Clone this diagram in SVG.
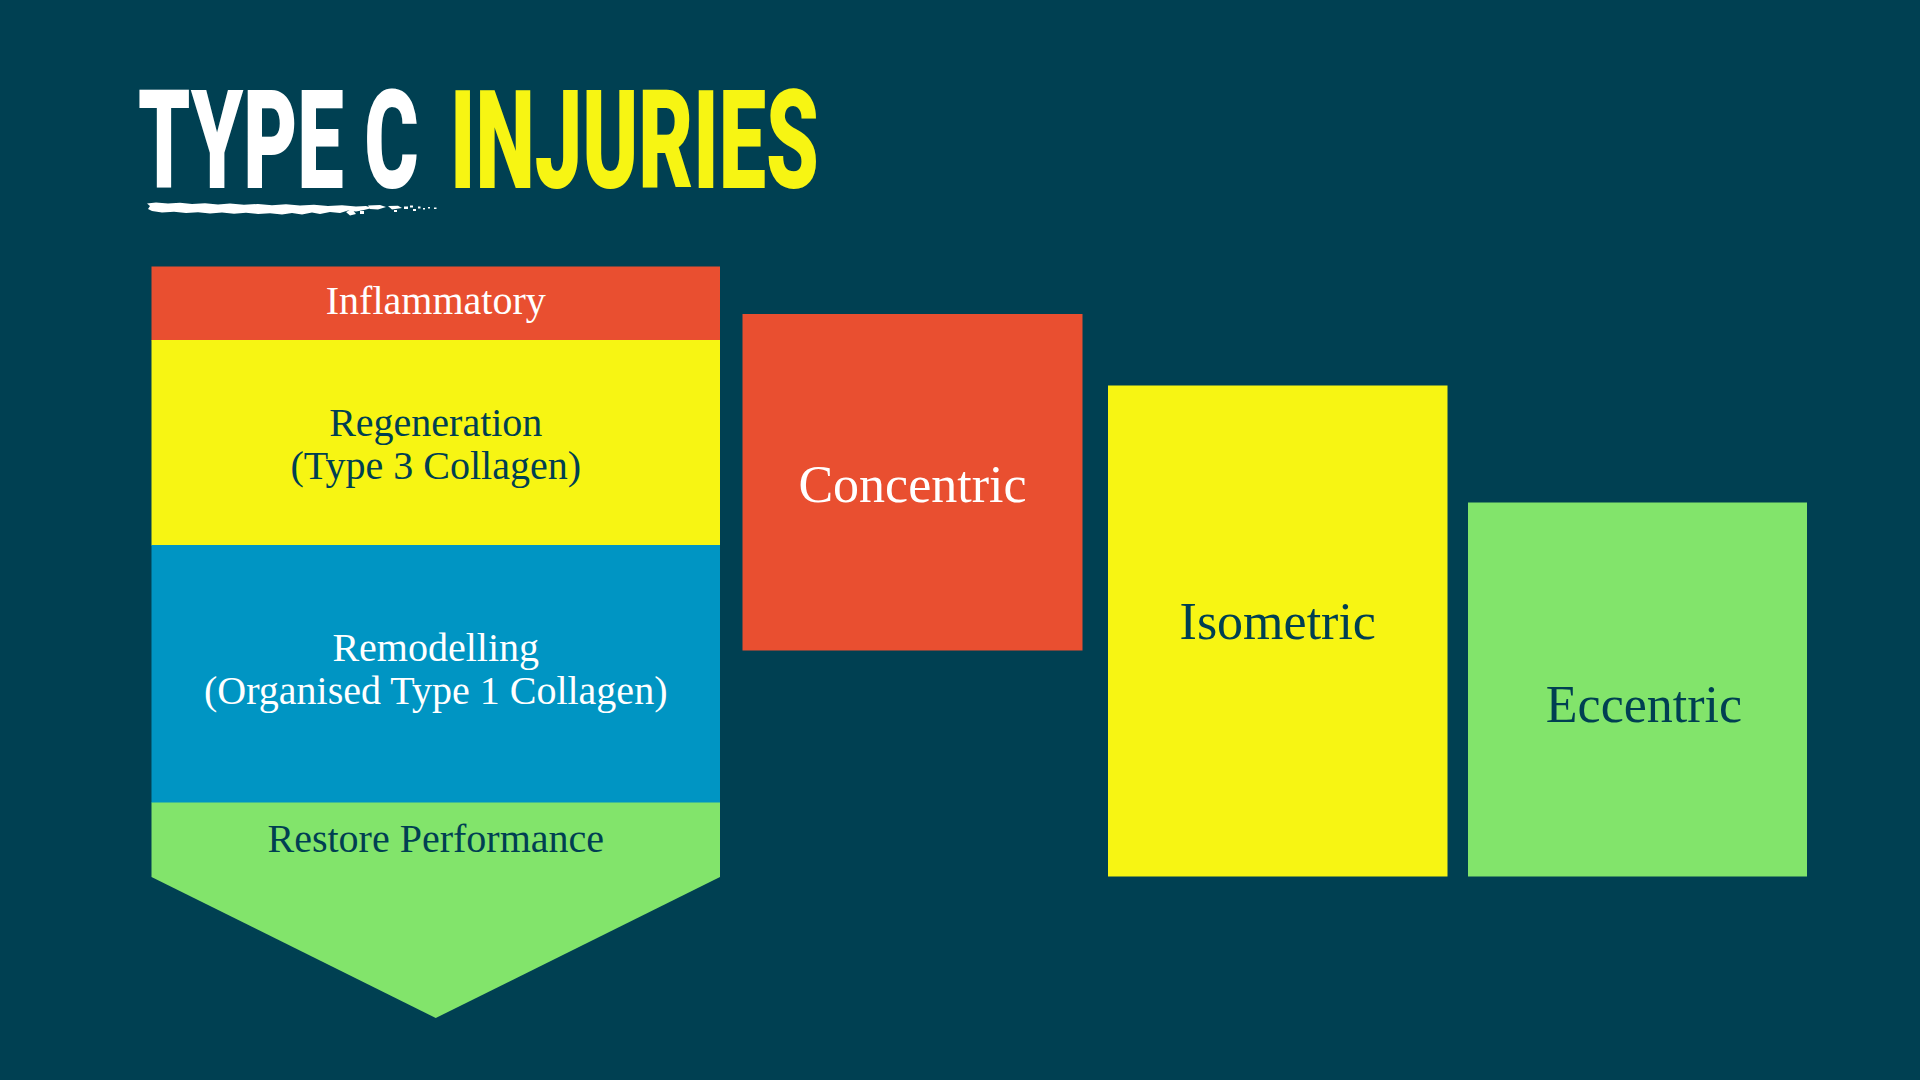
<svg xmlns="http://www.w3.org/2000/svg" width="1920" height="1080" viewBox="0 0 1920 1080">
  <style>
    .title { font-family: Roboto, "DejaVu Sans", sans-serif; font-weight: 900; font-size: 138px; }
    .lbl { font-family: "Liberation Serif", "Times New Roman", serif; font-size: 40px; text-anchor: middle; }
    .big { font-family: "Liberation Serif", "Times New Roman", serif; font-size: 52px; text-anchor: middle; }
    .light { fill: #ffffff; }
    .dark { fill: #003f52; }
  </style>
  <rect x="0" y="0" width="1920" height="1080" fill="#004052"/>

  <g id="title">
    <text class="title" transform="translate(138,188) scale(0.62,1)" x="0" y="0" fill="#ffffff" textLength="453" lengthAdjust="spacingAndGlyphs">TYPE C</text>
    <text class="title" transform="translate(450,188) scale(0.62,1)" x="0" y="0" fill="#f7f513" textLength="595" lengthAdjust="spacingAndGlyphs">INJURIES</text>
    <path fill="#ffffff" d="M147 203.5 L156 202.5 L168 203.5 L180 202.8 L192 204 L205 203.2 L218 204.5 L230 203.5 L244 204.8 L258 204 L272 205.2 L286 204.3 L300 205.5 L314 204.8 L328 206 L342 205.2 L356 206.5 L366 206 L372 208 L364 210 L356 211.5 L348 210.5 L340 213 L330 212 L320 214 L312 212.5 L302 214.5 L292 213 L282 214.5 L270 213.2 L258 214 L246 212.8 L234 213.8 L222 212.5 L210 213.5 L198 212.2 L186 213 L174 211.8 L162 212.5 L152 211 L148 209 L150 206 Z"/>
    <g fill="#ffffff">
      <path d="M368 205.5 L380 205 L386 207 L378 209.5 L370 209 Z"/>
      <path d="M388 206 L398 205.8 L402 208 L392 209.5 Z"/>
      <path d="M346 212 L352 209 L356 214 L350 215.5 Z"/>
      <rect x="360" y="211" width="4" height="3"/>
      <rect x="404" y="206.5" width="4" height="2.5"/>
      <rect x="410" y="205.5" width="3" height="2"/>
      <rect x="413" y="209" width="3" height="2"/>
      <rect x="418" y="206.5" width="2.5" height="2"/>
      <rect x="423" y="208" width="2" height="1.5"/>
      <rect x="428" y="207" width="2" height="1.5"/>
      <rect x="434" y="207.5" width="2.5" height="1.5"/>
      <rect x="394" y="210" width="3" height="2"/>
    </g>
  </g>

  <g id="phases">
    <g id="inflammatory">
      <rect x="151.5" y="266.5" width="568.5" height="74" fill="#e94f30"/>
      <text class="lbl light" x="435.75" y="314">Inflammatory</text>
    </g>
    <g id="regeneration">
      <rect x="151.5" y="340" width="568.5" height="205.5" fill="#f7f513"/>
      <text class="lbl dark" x="435.75" y="436">Regeneration<tspan x="435.75" dy="42.5">(Type 3 Collagen)</tspan></text>
    </g>
    <g id="remodelling">
      <rect x="151.5" y="545" width="568.5" height="258" fill="#0095c3"/>
      <text class="lbl light" x="435.75" y="661">Remodelling<tspan x="435.75" dy="43">(Organised Type 1 Collagen)</tspan></text>
    </g>
    <g id="restore">
      <polygon points="151.5,802.5 720,802.5 720,877 435.75,1018 151.5,877" fill="#82e46b"/>
      <text class="lbl dark" x="435.75" y="851.5">Restore Performance</text>
    </g>
  </g>

  <g id="connectors"></g>

  <g id="concentric">
    <rect x="742.5" y="314" width="340" height="336.5" fill="#e94f30"/>
    <text class="big light" x="912.5" y="502">Concentric</text>
  </g>
  <g id="isometric">
    <rect x="1108" y="385.5" width="339.5" height="491" fill="#f7f513"/>
    <text class="big dark" x="1277.75" y="639">Isometric</text>
  </g>
  <g id="eccentric">
    <rect x="1468" y="502.5" width="339" height="374" fill="#82e46b"/>
    <text class="big dark" x="1644" y="722">Eccentric</text>
  </g>
</svg>
